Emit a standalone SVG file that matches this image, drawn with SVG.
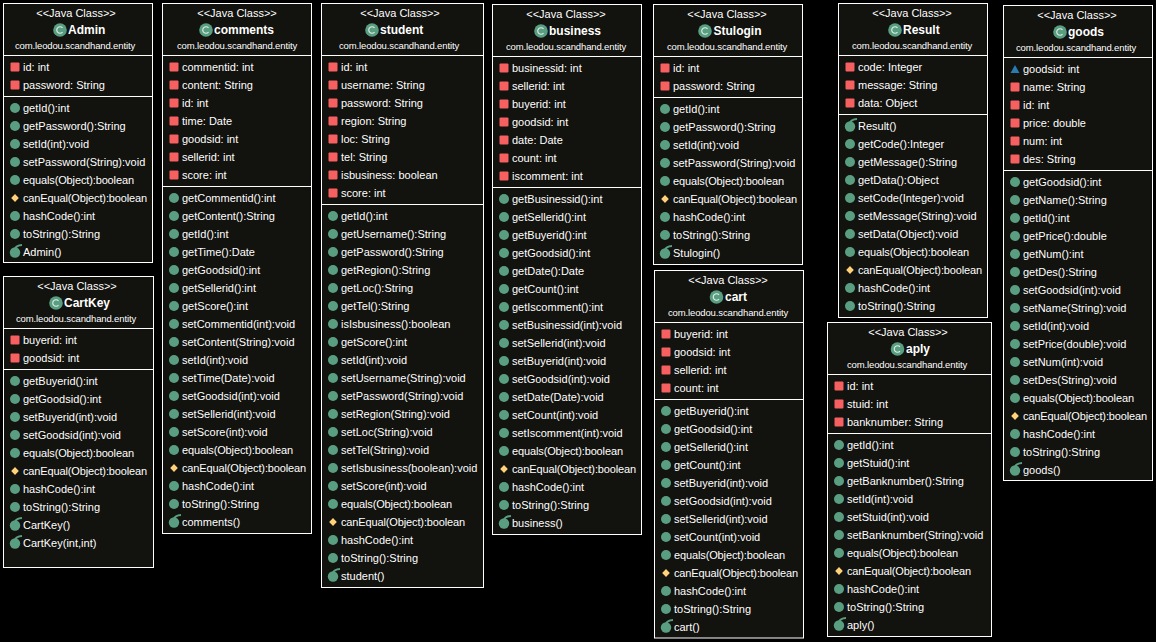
<svg xmlns="http://www.w3.org/2000/svg" width="1156" height="642" viewBox="0 0 1156 642">
<style>
text{font-family:"Liberation Sans",Arial,sans-serif;font-size:11px;fill:#fff}
.s{text-anchor:middle}
.p{text-anchor:middle;font-size:9.5px;letter-spacing:-.13px}
.t{font-weight:bold;font-size:12px}
.o{letter-spacing:-.13px}
.b{fill:#12120e;stroke:#fff;stroke-width:1}
.l{stroke:#fff;stroke-width:1}
</style>
<defs>
<rect id="f" x="-4.5" y="-4.5" width="9" height="9" rx="1" fill="#f66060"/>
<circle id="m" r="5" fill="#5a9e82"/>
<path id="d" d="M0-4 3.8 0 0 4-3.8 0Z" fill="#ffd27a"/>
<path id="a" d="M-4.5 4 0-4 4.5 4Z" fill="#2a7bb0"/>
<g id="k"><circle r="5.2" cy="0.5" fill="#5a9e82"/><path d="M0-3Q1-6.5 7-7" fill="none" stroke="#5a9e82" stroke-width="2"/></g>
<g id="c"><circle r="6.8" fill="#5a9e82"/><path d="M2.5-2.2A3.3 3.3 0 1 0 2.5 2.2" fill="none" stroke="#dfeee8" stroke-width="1.1"/></g>
</defs>
<rect width="1156" height="642" fill="#000"/>
<g id="connectors"/>

<g id="Admin">
<rect class="b" x="3.5" y="3.5" width="149" height="259"/>
<path class="l" d="M3.5 55.5H152.5M3.5 96.5H152.5"/>
<text class="s" x="76" y="17">&lt;&lt;Java Class&gt;&gt;</text>
<use href="#c" x="60" y="30"/><text class="t" x="68" y="34">Admin</text>
<text class="p" x="75" y="49">com.leodou.scandhand.entity</text>
<use href="#f" x="15" y="67"/><text x="23" y="71">id: int</text>
<use href="#f" x="15" y="85"/><text x="23" y="89">password: String</text>
<use href="#m" x="15" y="108"/><text x="23" y="112">getId():int</text>
<use href="#m" x="15" y="126"/><text x="23" y="130">getPassword():String</text>
<use href="#m" x="15" y="144"/><text x="23" y="148">setId(int):void</text>
<use href="#m" x="15" y="162"/><text x="23" y="166">setPassword(String):void</text>
<use href="#m" x="15" y="180"/><text class="o" x="23" y="184">equals(Object):boolean</text>
<use href="#d" x="15" y="198"/><text class="o" x="23" y="202">canEqual(Object):boolean</text>
<use href="#m" x="15" y="216"/><text x="23" y="220">hashCode():int</text>
<use href="#m" x="15" y="234"/><text x="23" y="238">toString():String</text>
<use href="#k" x="15" y="252"/><text x="23" y="256">Admin()</text>
</g>

<g id="CartKey">
<rect class="b" x="3.5" y="276.5" width="150" height="291"/>
<path class="l" d="M3.5 328.5H153.5M3.5 369.5H153.5"/>
<text class="s" x="77" y="290">&lt;&lt;Java Class&gt;&gt;</text>
<use href="#c" x="56" y="303"/><text class="t" x="64" y="307">CartKey</text>
<text class="p" x="76" y="322">com.leodou.scandhand.entity</text>
<use href="#f" x="15" y="340"/><text x="23" y="344">buyerid: int</text>
<use href="#f" x="15" y="358"/><text x="23" y="362">goodsid: int</text>
<use href="#m" x="15" y="381"/><text x="23" y="385">getBuyerid():int</text>
<use href="#m" x="15" y="399"/><text x="23" y="403">getGoodsid():int</text>
<use href="#m" x="15" y="417"/><text x="23" y="421">setBuyerid(int):void</text>
<use href="#m" x="15" y="435"/><text x="23" y="439">setGoodsid(int):void</text>
<use href="#m" x="15" y="453"/><text class="o" x="23" y="457">equals(Object):boolean</text>
<use href="#d" x="15" y="471"/><text class="o" x="23" y="475">canEqual(Object):boolean</text>
<use href="#m" x="15" y="489"/><text x="23" y="493">hashCode():int</text>
<use href="#m" x="15" y="507"/><text x="23" y="511">toString():String</text>
<use href="#k" x="15" y="525"/><text x="23" y="529">CartKey()</text>
<use href="#k" x="15" y="543"/><text x="23" y="547">CartKey(int,int)</text>
</g>

<g id="comments">
<rect class="b" x="162.5" y="3.5" width="149" height="530"/>
<path class="l" d="M162.5 55.5H311.5M162.5 186.5H311.5"/>
<text class="s" x="237" y="17">&lt;&lt;Java Class&gt;&gt;</text>
<use href="#c" x="206" y="30"/><text class="t" x="214" y="34">comments</text>
<text class="p" x="237" y="49">com.leodou.scandhand.entity</text>
<use href="#f" x="174" y="67"/><text x="182" y="71">commentid: int</text>
<use href="#f" x="174" y="85"/><text x="182" y="89">content: String</text>
<use href="#f" x="174" y="103"/><text x="182" y="107">id: int</text>
<use href="#f" x="174" y="121"/><text x="182" y="125">time: Date</text>
<use href="#f" x="174" y="139"/><text x="182" y="143">goodsid: int</text>
<use href="#f" x="174" y="157"/><text x="182" y="161">sellerid: int</text>
<use href="#f" x="174" y="175"/><text x="182" y="179">score: int</text>
<use href="#m" x="174" y="198"/><text x="182" y="202">getCommentid():int</text>
<use href="#m" x="174" y="216"/><text x="182" y="220">getContent():String</text>
<use href="#m" x="174" y="234"/><text x="182" y="238">getId():int</text>
<use href="#m" x="174" y="252"/><text x="182" y="256">getTime():Date</text>
<use href="#m" x="174" y="270"/><text x="182" y="274">getGoodsid():int</text>
<use href="#m" x="174" y="288"/><text x="182" y="292">getSellerid():int</text>
<use href="#m" x="174" y="306"/><text x="182" y="310">getScore():int</text>
<use href="#m" x="174" y="324"/><text x="182" y="328">setCommentid(int):void</text>
<use href="#m" x="174" y="342"/><text x="182" y="346">setContent(String):void</text>
<use href="#m" x="174" y="360"/><text x="182" y="364">setId(int):void</text>
<use href="#m" x="174" y="378"/><text x="182" y="382">setTime(Date):void</text>
<use href="#m" x="174" y="396"/><text x="182" y="400">setGoodsid(int):void</text>
<use href="#m" x="174" y="414"/><text x="182" y="418">setSellerid(int):void</text>
<use href="#m" x="174" y="432"/><text x="182" y="436">setScore(int):void</text>
<use href="#m" x="174" y="450"/><text class="o" x="182" y="454">equals(Object):boolean</text>
<use href="#d" x="174" y="468"/><text class="o" x="182" y="472">canEqual(Object):boolean</text>
<use href="#m" x="174" y="486"/><text x="182" y="490">hashCode():int</text>
<use href="#m" x="174" y="504"/><text x="182" y="508">toString():String</text>
<use href="#k" x="174" y="522"/><text x="182" y="526">comments()</text>
</g>

<g id="student">
<rect class="b" x="321.5" y="3.5" width="162" height="584"/>
<path class="l" d="M321.5 55.5H483.5M321.5 204.5H483.5"/>
<text class="s" x="400" y="17">&lt;&lt;Java Class&gt;&gt;</text>
<use href="#c" x="372" y="30"/><text class="t" x="380" y="34">student</text>
<text class="p" x="399" y="49">com.leodou.scandhand.entity</text>
<use href="#f" x="333" y="67"/><text x="341" y="71">id: int</text>
<use href="#f" x="333" y="85"/><text x="341" y="89">username: String</text>
<use href="#f" x="333" y="103"/><text x="341" y="107">password: String</text>
<use href="#f" x="333" y="121"/><text x="341" y="125">region: String</text>
<use href="#f" x="333" y="139"/><text x="341" y="143">loc: String</text>
<use href="#f" x="333" y="157"/><text x="341" y="161">tel: String</text>
<use href="#f" x="333" y="175"/><text x="341" y="179">isbusiness: boolean</text>
<use href="#f" x="333" y="193"/><text x="341" y="197">score: int</text>
<use href="#m" x="333" y="216"/><text x="341" y="220">getId():int</text>
<use href="#m" x="333" y="234"/><text x="341" y="238">getUsername():String</text>
<use href="#m" x="333" y="252"/><text x="341" y="256">getPassword():String</text>
<use href="#m" x="333" y="270"/><text x="341" y="274">getRegion():String</text>
<use href="#m" x="333" y="288"/><text x="341" y="292">getLoc():String</text>
<use href="#m" x="333" y="306"/><text x="341" y="310">getTel():String</text>
<use href="#m" x="333" y="324"/><text x="341" y="328">isIsbusiness():boolean</text>
<use href="#m" x="333" y="342"/><text x="341" y="346">getScore():int</text>
<use href="#m" x="333" y="360"/><text x="341" y="364">setId(int):void</text>
<use href="#m" x="333" y="378"/><text x="341" y="382">setUsername(String):void</text>
<use href="#m" x="333" y="396"/><text x="341" y="400">setPassword(String):void</text>
<use href="#m" x="333" y="414"/><text x="341" y="418">setRegion(String):void</text>
<use href="#m" x="333" y="432"/><text x="341" y="436">setLoc(String):void</text>
<use href="#m" x="333" y="450"/><text x="341" y="454">setTel(String):void</text>
<use href="#m" x="333" y="468"/><text x="341" y="472">setIsbusiness(boolean):void</text>
<use href="#m" x="333" y="486"/><text x="341" y="490">setScore(int):void</text>
<use href="#m" x="333" y="504"/><text class="o" x="341" y="508">equals(Object):boolean</text>
<use href="#d" x="333" y="522"/><text class="o" x="341" y="526">canEqual(Object):boolean</text>
<use href="#m" x="333" y="540"/><text x="341" y="544">hashCode():int</text>
<use href="#m" x="333" y="558"/><text x="341" y="562">toString():String</text>
<use href="#k" x="333" y="576"/><text x="341" y="580">student()</text>
</g>

<g id="business">
<rect class="b" x="492.5" y="4.5" width="149" height="530"/>
<path class="l" d="M492.5 56.5H641.5M492.5 187.5H641.5"/>
<text class="s" x="566" y="18">&lt;&lt;Java Class&gt;&gt;</text>
<use href="#c" x="541" y="31"/><text class="t" x="549" y="35">business</text>
<text class="p" x="566" y="50">com.leodou.scandhand.entity</text>
<use href="#f" x="504" y="68"/><text x="512" y="72">businessid: int</text>
<use href="#f" x="504" y="86"/><text x="512" y="90">sellerid: int</text>
<use href="#f" x="504" y="104"/><text x="512" y="108">buyerid: int</text>
<use href="#f" x="504" y="122"/><text x="512" y="126">goodsid: int</text>
<use href="#f" x="504" y="140"/><text x="512" y="144">date: Date</text>
<use href="#f" x="504" y="158"/><text x="512" y="162">count: int</text>
<use href="#f" x="504" y="176"/><text x="512" y="180">iscomment: int</text>
<use href="#m" x="504" y="199"/><text x="512" y="203">getBusinessid():int</text>
<use href="#m" x="504" y="217"/><text x="512" y="221">getSellerid():int</text>
<use href="#m" x="504" y="235"/><text x="512" y="239">getBuyerid():int</text>
<use href="#m" x="504" y="253"/><text x="512" y="257">getGoodsid():int</text>
<use href="#m" x="504" y="271"/><text x="512" y="275">getDate():Date</text>
<use href="#m" x="504" y="289"/><text x="512" y="293">getCount():int</text>
<use href="#m" x="504" y="307"/><text x="512" y="311">getIscomment():int</text>
<use href="#m" x="504" y="325"/><text x="512" y="329">setBusinessid(int):void</text>
<use href="#m" x="504" y="343"/><text x="512" y="347">setSellerid(int):void</text>
<use href="#m" x="504" y="361"/><text x="512" y="365">setBuyerid(int):void</text>
<use href="#m" x="504" y="379"/><text x="512" y="383">setGoodsid(int):void</text>
<use href="#m" x="504" y="397"/><text x="512" y="401">setDate(Date):void</text>
<use href="#m" x="504" y="415"/><text x="512" y="419">setCount(int):void</text>
<use href="#m" x="504" y="433"/><text x="512" y="437">setIscomment(int):void</text>
<use href="#m" x="504" y="451"/><text class="o" x="512" y="455">equals(Object):boolean</text>
<use href="#d" x="504" y="469"/><text class="o" x="512" y="473">canEqual(Object):boolean</text>
<use href="#m" x="504" y="487"/><text x="512" y="491">hashCode():int</text>
<use href="#m" x="504" y="505"/><text x="512" y="509">toString():String</text>
<use href="#k" x="504" y="523"/><text x="512" y="527">business()</text>
</g>

<g id="Stulogin">
<rect class="b" x="653.5" y="4.5" width="149" height="260"/>
<path class="l" d="M653.5 56.5H802.5M653.5 97.5H802.5"/>
<text class="s" x="727" y="18">&lt;&lt;Java Class&gt;&gt;</text>
<use href="#c" x="705" y="31"/><text class="t" x="713.5" y="35">Stulogin</text>
<text class="p" x="727" y="50">com.leodou.scandhand.entity</text>
<use href="#f" x="665" y="68"/><text x="673" y="72">id: int</text>
<use href="#f" x="665" y="86"/><text x="673" y="90">password: String</text>
<use href="#m" x="665" y="109"/><text x="673" y="113">getId():int</text>
<use href="#m" x="665" y="127"/><text x="673" y="131">getPassword():String</text>
<use href="#m" x="665" y="145"/><text x="673" y="149">setId(int):void</text>
<use href="#m" x="665" y="163"/><text x="673" y="167">setPassword(String):void</text>
<use href="#m" x="665" y="181"/><text class="o" x="673" y="185">equals(Object):boolean</text>
<use href="#d" x="665" y="199"/><text class="o" x="673" y="203">canEqual(Object):boolean</text>
<use href="#m" x="665" y="217"/><text x="673" y="221">hashCode():int</text>
<use href="#m" x="665" y="235"/><text x="673" y="239">toString():String</text>
<use href="#k" x="665" y="253"/><text x="673" y="257">Stulogin()</text>
</g>

<g id="cart">
<rect class="b" x="654.5" y="270.5" width="149" height="367.5"/>
<path class="l" d="M654.5 322.5H803.5M654.5 399.5H803.5"/>
<text class="s" x="728" y="284">&lt;&lt;Java Class&gt;&gt;</text>
<use href="#c" x="716.5" y="297"/><text class="t" x="725" y="301">cart</text>
<text class="p" x="728" y="316">com.leodou.scandhand.entity</text>
<use href="#f" x="666" y="334"/><text x="674" y="338">buyerid: int</text>
<use href="#f" x="666" y="352"/><text x="674" y="356">goodsid: int</text>
<use href="#f" x="666" y="370"/><text x="674" y="374">sellerid: int</text>
<use href="#f" x="666" y="388"/><text x="674" y="392">count: int</text>
<use href="#m" x="666" y="411"/><text x="674" y="415">getBuyerid():int</text>
<use href="#m" x="666" y="429"/><text x="674" y="433">getGoodsid():int</text>
<use href="#m" x="666" y="447"/><text x="674" y="451">getSellerid():int</text>
<use href="#m" x="666" y="465"/><text x="674" y="469">getCount():int</text>
<use href="#m" x="666" y="483"/><text x="674" y="487">setBuyerid(int):void</text>
<use href="#m" x="666" y="501"/><text x="674" y="505">setGoodsid(int):void</text>
<use href="#m" x="666" y="519"/><text x="674" y="523">setSellerid(int):void</text>
<use href="#m" x="666" y="537"/><text x="674" y="541">setCount(int):void</text>
<use href="#m" x="666" y="555"/><text class="o" x="674" y="559">equals(Object):boolean</text>
<use href="#d" x="666" y="573"/><text class="o" x="674" y="577">canEqual(Object):boolean</text>
<use href="#m" x="666" y="591"/><text x="674" y="595">hashCode():int</text>
<use href="#m" x="666" y="609"/><text x="674" y="613">toString():String</text>
<use href="#k" x="666" y="627"/><text x="674" y="631">cart()</text>
</g>

<g id="Result">
<rect class="b" x="838.5" y="3.5" width="149" height="314"/>
<path class="l" d="M838.5 55.5H987.5M838.5 114.5H987.5"/>
<text class="s" x="912" y="17">&lt;&lt;Java Class&gt;&gt;</text>
<use href="#c" x="895" y="30"/><text class="t" x="903" y="34">Result</text>
<text class="p" x="912" y="49">com.leodou.scandhand.entity</text>
<use href="#f" x="850" y="67"/><text x="858" y="71">code: Integer</text>
<use href="#f" x="850" y="85"/><text x="858" y="89">message: String</text>
<use href="#f" x="850" y="103"/><text x="858" y="107">data: Object</text>
<use href="#k" x="850" y="126"/><text x="858" y="130">Result()</text>
<use href="#m" x="850" y="144"/><text x="858" y="148">getCode():Integer</text>
<use href="#m" x="850" y="162"/><text x="858" y="166">getMessage():String</text>
<use href="#m" x="850" y="180"/><text x="858" y="184">getData():Object</text>
<use href="#m" x="850" y="198"/><text x="858" y="202">setCode(Integer):void</text>
<use href="#m" x="850" y="216"/><text x="858" y="220">setMessage(String):void</text>
<use href="#m" x="850" y="234"/><text x="858" y="238">setData(Object):void</text>
<use href="#m" x="850" y="252"/><text class="o" x="858" y="256">equals(Object):boolean</text>
<use href="#d" x="850" y="270"/><text class="o" x="858" y="274">canEqual(Object):boolean</text>
<use href="#m" x="850" y="288"/><text x="858" y="292">hashCode():int</text>
<use href="#m" x="850" y="306"/><text x="858" y="310">toString():String</text>
</g>

<g id="aply">
<rect class="b" x="827.5" y="322.5" width="164" height="314"/>
<path class="l" d="M827.5 374.5H991.5M827.5 433.5H991.5"/>
<text class="s" x="908" y="336">&lt;&lt;Java Class&gt;&gt;</text>
<use href="#c" x="897.5" y="349"/><text class="t" x="906" y="353">aply</text>
<text class="p" x="907" y="368">com.leodou.scandhand.entity</text>
<use href="#f" x="839" y="386"/><text x="847" y="390">id: int</text>
<use href="#f" x="839" y="404"/><text x="847" y="408">stuid: int</text>
<use href="#f" x="839" y="422"/><text x="847" y="426">banknumber: String</text>
<use href="#m" x="839" y="445"/><text x="847" y="449">getId():int</text>
<use href="#m" x="839" y="463"/><text x="847" y="467">getStuid():int</text>
<use href="#m" x="839" y="481"/><text x="847" y="485">getBanknumber():String</text>
<use href="#m" x="839" y="499"/><text x="847" y="503">setId(int):void</text>
<use href="#m" x="839" y="517"/><text x="847" y="521">setStuid(int):void</text>
<use href="#m" x="839" y="535"/><text x="847" y="539">setBanknumber(String):void</text>
<use href="#m" x="839" y="553"/><text class="o" x="847" y="557">equals(Object):boolean</text>
<use href="#d" x="839" y="571"/><text class="o" x="847" y="575">canEqual(Object):boolean</text>
<use href="#m" x="839" y="589"/><text x="847" y="593">hashCode():int</text>
<use href="#m" x="839" y="607"/><text x="847" y="611">toString():String</text>
<use href="#k" x="839" y="625"/><text x="847" y="629">aply()</text>
</g>

<g id="goods">
<rect class="b" x="1003.5" y="5.5" width="149" height="475"/>
<path class="l" d="M1003.5 57.5H1152.5M1003.5 170.5H1152.5"/>
<text class="s" x="1077" y="19">&lt;&lt;Java Class&gt;&gt;</text>
<use href="#c" x="1060" y="32"/><text class="t" x="1068" y="36">goods</text>
<text class="p" x="1076" y="51">com.leodou.scandhand.entity</text>
<use href="#a" x="1015" y="69"/><text x="1023" y="73">goodsid: int</text>
<use href="#f" x="1015" y="87"/><text x="1023" y="91">name: String</text>
<use href="#f" x="1015" y="105"/><text x="1023" y="109">id: int</text>
<use href="#f" x="1015" y="123"/><text x="1023" y="127">price: double</text>
<use href="#f" x="1015" y="141"/><text x="1023" y="145">num: int</text>
<use href="#f" x="1015" y="159"/><text x="1023" y="163">des: String</text>
<use href="#m" x="1015" y="182"/><text x="1023" y="186">getGoodsid():int</text>
<use href="#m" x="1015" y="200"/><text x="1023" y="204">getName():String</text>
<use href="#m" x="1015" y="218"/><text x="1023" y="222">getId():int</text>
<use href="#m" x="1015" y="236"/><text x="1023" y="240">getPrice():double</text>
<use href="#m" x="1015" y="254"/><text x="1023" y="258">getNum():int</text>
<use href="#m" x="1015" y="272"/><text x="1023" y="276">getDes():String</text>
<use href="#m" x="1015" y="290"/><text x="1023" y="294">setGoodsid(int):void</text>
<use href="#m" x="1015" y="308"/><text x="1023" y="312">setName(String):void</text>
<use href="#m" x="1015" y="326"/><text x="1023" y="330">setId(int):void</text>
<use href="#m" x="1015" y="344"/><text x="1023" y="348">setPrice(double):void</text>
<use href="#m" x="1015" y="362"/><text x="1023" y="366">setNum(int):void</text>
<use href="#m" x="1015" y="380"/><text x="1023" y="384">setDes(String):void</text>
<use href="#m" x="1015" y="398"/><text class="o" x="1023" y="402">equals(Object):boolean</text>
<use href="#d" x="1015" y="416"/><text class="o" x="1023" y="420">canEqual(Object):boolean</text>
<use href="#m" x="1015" y="434"/><text x="1023" y="438">hashCode():int</text>
<use href="#m" x="1015" y="452"/><text x="1023" y="456">toString():String</text>
<use href="#k" x="1015" y="470"/><text x="1023" y="474">goods()</text>
</g>
</svg>
